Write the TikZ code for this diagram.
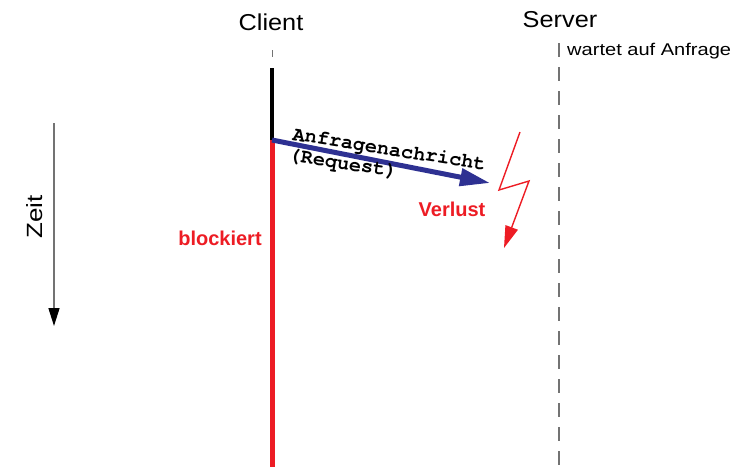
\documentclass[tikz,border=0pt]{standalone}
\usepackage{fontspec}
\setmainfont{Liberation Sans}
\newfontfamily\headfont[FakeStretch=1.1]{Liberation Sans}
\newfontfamily\notefont[FakeStretch=1.18]{Liberation Sans}
\newfontfamily\msgfont{TeX Gyre Cursor}
\usetikzlibrary{arrows.meta}
\definecolor{lossred}{HTML}{ED1C24}
\definecolor{msgblue}{HTML}{2E3192}
\definecolor{lifegray}{gray}{0.45}

\tikzset{
  head/.style={font=\headfont\fontsize{23}{23}\selectfont, inner sep=0pt, anchor=base},
  note/.style={font=\notefont\fontsize{17}{17}\selectfont, inner sep=0pt, anchor=base west},
  redlabel/.style={font=\bfseries\fontsize{20}{20}\selectfont, text=lossred, inner sep=0pt, anchor=base},
  msgtext/.style={font=\msgfont\bfseries\fontsize{20.3}{20.3}\selectfont, inner sep=0pt, anchor=base west, rotate=-9},
  lifeline/.style={draw=lifegray, line width=1.8pt, dash pattern=on 14pt off 10pt},
}

\begin{document}
\begin{tikzpicture}[x=1pt, y=-1pt]
\useasboundingbox (0,0) rectangle (755,467);

% participants
\node[head] (client) at (271,30) {Client};
\node[head] (server) at (560,27) {Server};
\node[note] (wait) at (567,55) {wartet auf Anfrage};

% time axis
\coordinate (t0) at (54,123);
\coordinate (t1) at (54,326);
\draw[draw=lifegray, line width=1.5pt, -{Triangle[length=18pt,width=11pt,color=black,fill=black]}] (t0) -- (t1);
\node[font=\notefont\fontsize{22}{22}\selectfont, inner sep=0pt, anchor=base, rotate=90] (zeit) at (42,217) {Zeit};

% server lifeline
\coordinate (s0) at (559,43);
\coordinate (s1) at (559,467);
\draw[lifeline] (s0) -- (s1);

% client lifeline: idle, active, blocked
\coordinate (c0) at (272,50);
\coordinate (c0e) at (272,57);
\coordinate (c1) at (272,68);
\coordinate (c2) at (272,140);
\coordinate (c3) at (272,467);
\draw[draw=lifegray, line width=1pt] (c0) -- (c0e);
\draw[black, line width=4pt] (c1) -- (c2);
\draw[lossred, line width=5pt] (c2) -- (c3);
\node[redlabel] (block) at (220,245) {blockiert};

% request message
\coordinate (m1) at (490,183);
\draw[msgblue, line width=5pt, -{Triangle[length=30pt,width=17pt]}] (c2) -- (m1);
\node[msgtext] (req1) at (292,140) {Anfragenachricht};
\node[msgtext] (req2) at (288,160.5) {(Request)};

% loss flash
\coordinate (f0) at (520,132);
\coordinate (f1) at (499,190);
\coordinate (f2) at (529,181);
\coordinate (f3) at (504,248);
\draw[lossred, line width=1.4pt, -{Triangle[length=22pt,width=13pt]}] (f0) -- (f1) -- (f2) -- (f3);
\node[redlabel] (loss) at (452,216) {Verlust};
\end{tikzpicture}
\end{document}
